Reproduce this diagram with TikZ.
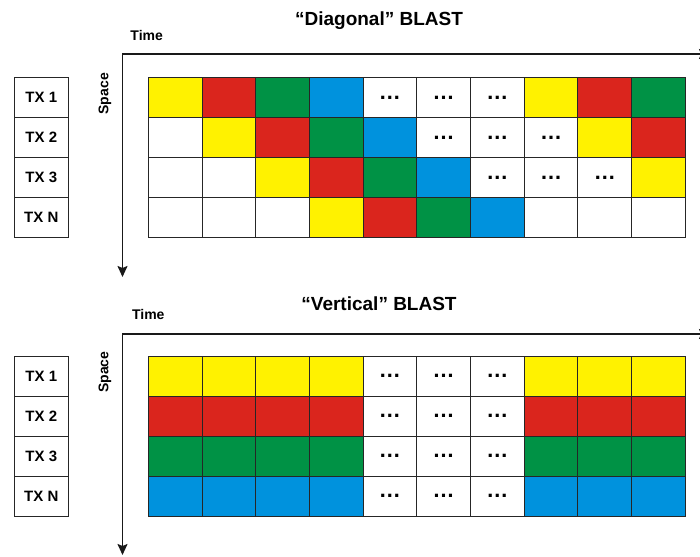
\documentclass[tikz,border=0pt]{standalone}
\usepackage{fontspec}
\setmainfont{Liberation Sans}
\usetikzlibrary{arrows.meta}

\definecolor{cY}{RGB}{255,242,0}
\definecolor{cR}{RGB}{218,37,29}
\definecolor{cG}{RGB}{0,146,69}
\definecolor{cB}{RGB}{0,146,221}
\definecolor{cW}{RGB}{255,255,255}

\tikzset{
    cell/.style={draw=black!85, line width=0.9pt, minimum width=53.7pt,
        minimum height=40pt, inner sep=0pt, outer sep=0pt},
    txbox/.style={draw=black!85, line width=0.9pt, minimum width=54pt,
        minimum height=40pt, inner sep=0pt,
        font=\bfseries\fontsize{15}{15}\selectfont},
    axis/.style={line width=1.6pt, black!90,
        {Stealth[length=11pt,width=10pt,inset=2pt]}-{Stealth[length=11pt,width=10pt,inset=2pt]}},
    dots/.style={anchor=base, inner sep=0pt,
        font=\bfseries\fontsize{22}{22}\selectfont},
    lbl/.style={anchor=base, inner sep=0pt,
        font=\bfseries\fontsize{14}{14}\selectfont},
    title/.style={anchor=base, inner sep=0pt,
        font=\bfseries\fontsize{19}{19}\selectfont}
}

\begin{document}
\begin{tikzpicture}[x=1pt, y=-1pt]

    \useasboundingbox (0,0) rectangle (700,556);

    \def\colw{53.7}
    \def\xl{148.3}

    %----- DIAGONAL BLAST -----
    \node[title] (d-title) at (379,26) {“Diagonal” BLAST};
    \node[lbl] (d-time) at (146.7,40.7) {Time};
    \node[lbl, rotate=90] (d-space) at (108.3,93.8) {Space};

    \coordinate (d-o) at (122.5,54);
    \coordinate (d-t) at (710,54);
    \coordinate (d-s) at (122.5,277);
    \draw[axis] (d-t) -- (d-o) -- (d-s);

    \foreach \t [count=\r from 0] in {1,2,3,N}
        \node[txbox] (dtx-\r) at (41.3, {77.7+40*(\r+0.5)}) {TX \t};

    \foreach \r/\row in {0/{Y,R,G,B,W,W,W,Y,R,G},
                         1/{W,Y,R,G,B,W,W,W,Y,R},
                         2/{W,W,Y,R,G,B,W,W,W,Y},
                         3/{W,W,W,Y,R,G,B,W,W,W}}
        \foreach \k [count=\c from 0] in \row
            \node[cell, fill=c\k] (d-\r-\c)
                at ({\xl+\colw*(\c+0.5)}, {77.7+40*(\r+0.5)}) {};

    % dots move one column right on each row
    \foreach \r in {0,1,2}
        \foreach \c in {4,5,6} {
            \pgfmathtruncatemacro{\cc}{\r+\c}
            \node[dots] (dd-\r-\cc) at ([yshift=-1.5pt]d-\r-\cc.center) {…};
        }

    %----- VERTICAL BLAST -----
    \node[title] (v-title) at (379,310) {“Vertical” BLAST};
    \node[lbl] (v-time) at (148.3,319) {Time};
    \node[lbl, rotate=90] (v-space) at (108.3,372.2) {Space};

    \coordinate (v-o) at (122.5,334);
    \coordinate (v-t) at (710,334);
    \coordinate (v-s) at (122.5,555);
    \draw[axis] (v-t) -- (v-o) -- (v-s);

    \foreach \t [count=\r from 0] in {1,2,3,N}
        \node[txbox] (vtx-\r) at (41.3, {356+40*(\r+0.5)}) {TX \t};

    \foreach \r/\k in {0/Y,1/R,2/G,3/B}
        \foreach \c in {0,...,9} {
            \ifnum\c>3 \ifnum\c<7 \edef\f{W}\else\edef\f{\k}\fi\else\edef\f{\k}\fi
            \node[cell, fill=c\f] (v-\r-\c)
                at ({\xl+\colw*(\c+0.5)}, {356+40*(\r+0.5)}) {};
        }

    \foreach \r in {0,...,3}
        \foreach \c in {4,5,6}
            \node[dots] (vd-\r-\c) at ([yshift=-1.5pt]v-\r-\c.center) {…};

\end{tikzpicture}
\end{document}
